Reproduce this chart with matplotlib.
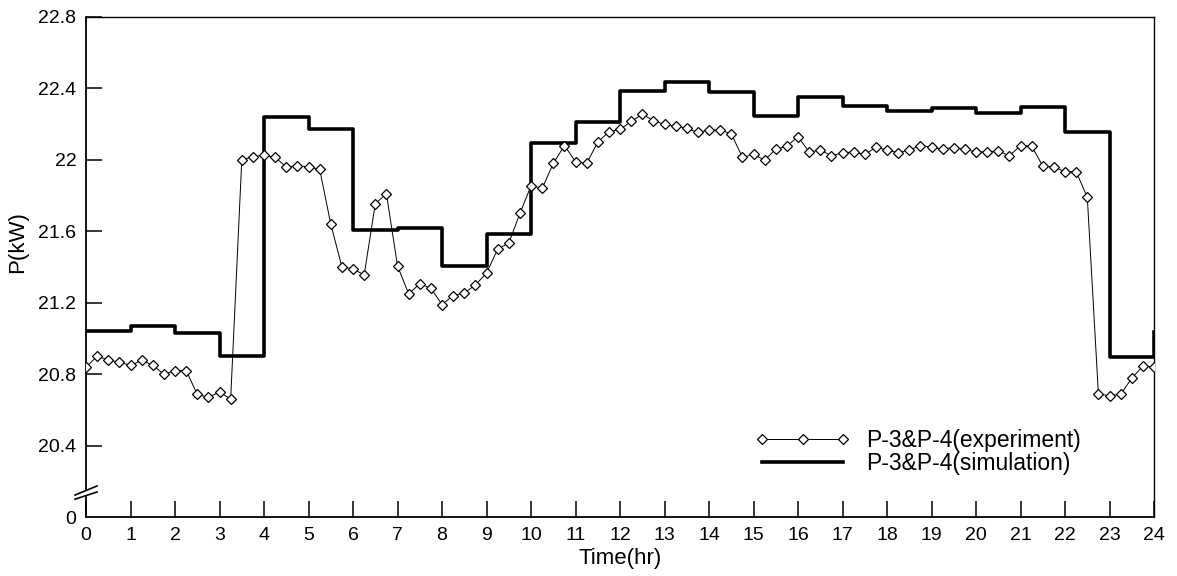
import numpy as np
import matplotlib.pyplot as plt

plt.rcParams['font.family'] = ['Liberation Sans', 'DejaVu Sans']

# measured power, sampled every 15 min
hours_exp = np.arange(0, 24.01, 0.25)
p_exp = [20.84, 20.90, 20.88, 20.866, 20.85, 20.877, 20.85, 20.80, 20.82, 20.82,
         20.687, 20.67, 20.70, 20.66, 22.00, 22.018, 22.027, 22.014, 21.96, 21.967,
         21.96, 21.947, 21.64, 21.40, 21.39, 21.355, 21.754, 21.81, 21.405, 21.25,
         21.306, 21.28, 21.19, 21.24, 21.254, 21.30, 21.366, 21.50, 21.534, 21.70,
         21.855, 21.84, 21.98, 22.08, 21.99, 21.98, 22.10, 22.157, 22.17, 22.215,
         22.255, 22.22, 22.198, 22.19, 22.176, 22.154, 22.167, 22.167, 22.146, 22.014,
         22.03, 21.999, 22.06, 22.077, 22.13, 22.044, 22.055, 22.023, 22.04, 22.044,
         22.03, 22.07, 22.055, 22.04, 22.055, 22.08, 22.07, 22.062, 22.068, 22.058,
         22.045, 22.044, 22.05, 22.023, 22.08, 22.077, 21.965, 21.96, 21.934, 21.934,
         21.79, 20.687, 20.68, 20.687, 20.778, 20.845, 20.84]

# simulated power, hourly
hours_sim = np.arange(0, 25)
p_sim = [21.04, 21.07, 21.03, 20.90, 22.24, 22.17, 21.61, 21.62, 21.405, 21.585,
         22.096, 22.21, 22.387, 22.435, 22.378, 22.245, 22.35, 22.30, 22.275, 22.29,
         22.265, 22.295, 22.154, 20.894, 21.037]

x_ticks = list(range(0, 25))
y_ticks = [20.0, 20.4, 20.8, 21.2, 21.6, 22.0, 22.4, 22.8]
y_ticklabels = ['0', '20.4', '20.8', '21.2', '21.6', '22', '22.4', '22.8']

fig = plt.figure(figsize=(11.77, 5.76), dpi=100)
ax = fig.add_axes([0.0731, 0.1024, 0.9074, 0.8681])

ax.plot(hours_exp, p_exp, color='black', lw=0.7, marker='D', ms=4.6,
        mfc='white', mec='black', mew=0.9, label='P-3&P-4(experiment)', zorder=3)
ax.plot(hours_sim, p_sim, color='black', lw=2.6, drawstyle='steps-post',
        label='P-3&P-4(simulation)', zorder=2)

ax.set_xlim(0, 24)
ax.set_ylim(20.0, 22.8)
ax.set_xticks(x_ticks)
ax.set_yticks(y_ticks)
ax.set_yticklabels(y_ticklabels)
ax.tick_params(direction='in', length=11.5, width=1.1, labelsize=14)
ax.tick_params(axis='x', pad=7)
ax.tick_params(axis='y', pad=7)
ax.yaxis.get_major_ticks()[0].tick1line.set_visible(False)

for side in ['left', 'bottom']:
    ax.spines[side].set_linewidth(1.3)
for side in ['top', 'right']:
    ax.spines[side].set_linewidth(1.0)

ax.set_xlabel('Time(hr)', fontsize=16, labelpad=3)
ax.set_ylabel('P(kW)', fontsize=16, labelpad=8)
ax.yaxis.set_label_coords(-0.054, 0.55)

# axis break marks on the y axis
tr = ax.get_yaxis_transform()
dx = 0.0103
ax.fill([-dx, dx, dx, -dx], [20.10, 20.14, 20.174, 20.123], color='white',
        transform=tr, clip_on=False, zorder=5)
ax.plot([-dx, dx], [20.10, 20.14], color='black', lw=1.2, transform=tr,
        clip_on=False, zorder=6)
ax.plot([-dx, dx], [20.123, 20.174], color='black', lw=1.2, transform=tr,
        clip_on=False, zorder=6)

ax.legend(loc='upper left', bbox_to_anchor=(0.6264, 0.176), frameon=False,
          fontsize=16.5, numpoints=3, handlelength=4.15, handletextpad=0.7,
          labelspacing=0.0, borderpad=0, borderaxespad=0)

fig.savefig('out.png', dpi=100)
